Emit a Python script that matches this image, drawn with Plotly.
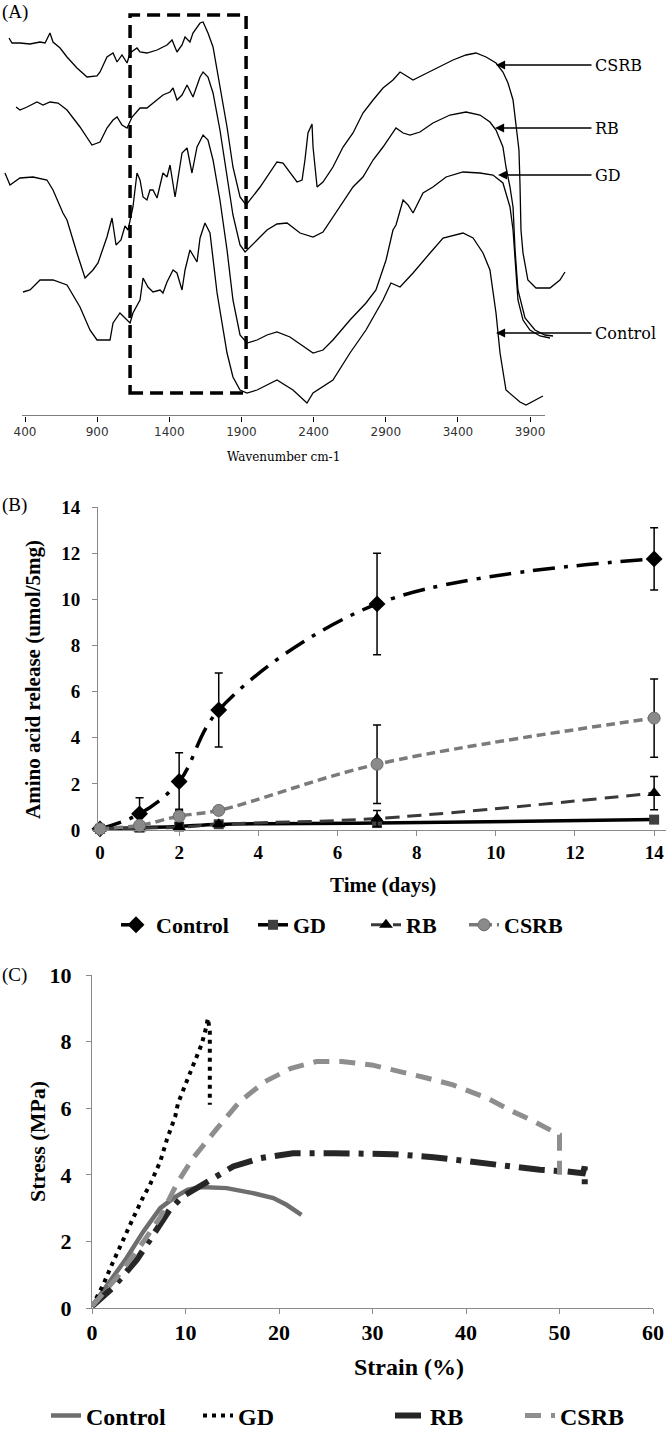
import plotly.graph_objects as go

W, H = 666, 1431


def fx(p):
    return p / W


def fy(p):
    return 1 - p / H


# ---------------- Panel A: FTIR spectra (wavenumber cm-1 vs transmittance, a.u.) ----------------
csrb_wn = [289, 310, 365, 435, 504, 539, 573, 594, 643, 691, 760, 830, 899, 920, 968, 1010, 1038, 1072, 1107, 1128,
           1176, 1197, 1245, 1315, 1384, 1419, 1453, 1488, 1509, 1543, 1564, 1613, 1634, 1668, 1703, 1751, 1800, 1841,
           1890, 1932, 2029, 2146, 2188, 2285, 2320, 2340, 2361, 2389, 2396, 2424, 2465, 2534, 2604, 2673, 2742, 2812,
           2881, 2950, 2999, 3033, 3089, 3158, 3227, 3297, 3366, 3456, 3525, 3595, 3664, 3712, 3747, 3782, 3803, 3823,
           3830, 3837, 3851, 3885, 3941, 4038, 4107, 4142]
csrb_t = [378, 373, 373, 372, 374, 373, 383, 374, 368, 359, 348, 339, 340, 344, 359, 363, 354, 361, 353, 363,
          368, 364, 363, 366, 371, 376, 364, 371, 379, 374, 383, 393, 394, 383, 369, 329, 289, 249, 219, 211,
          229, 254, 253, 234, 236, 256, 283, 292, 269, 229, 234, 249, 269, 283, 303, 316, 328, 336, 344, 341,
          336, 341, 346, 351, 356, 361, 363, 359, 353, 344, 333, 316, 293, 266, 233, 186, 163, 136, 128, 128,
          136, 144]

rb_wn = [338, 365, 414, 483, 525, 573, 629, 691, 781, 864, 920, 968, 1010, 1038, 1072, 1107, 1142, 1197, 1245, 1287,
         1356, 1405, 1426, 1453, 1488, 1523, 1564, 1613, 1634, 1668, 1703, 1751, 1800, 1841, 1890, 1925, 2008, 2077,
         2146, 2216, 2306, 2396, 2465, 2534, 2604, 2673, 2742, 2812, 2881, 2950, 2971, 3020, 3068, 3137, 3227, 3345,
         3456, 3553, 3622, 3664, 3712, 3733, 3761, 3782, 3796, 3816, 3865, 3934, 4003, 4059]
rb_t = [309, 306, 309, 314, 311, 314, 313, 306, 289, 271, 274, 288, 296, 299, 291, 288, 299, 308, 308, 313,
        321, 324, 328, 316, 321, 331, 319, 339, 344, 339, 323, 286, 241, 201, 171, 164, 176, 186, 192, 193,
        183, 179, 184, 199, 213, 229, 239, 256, 269, 283, 288, 283, 281, 284, 293, 301, 304, 301, 294, 286,
        269, 249, 229, 209, 166, 126, 98, 86, 81, 80]

gd_wn = [261, 296, 365, 455, 552, 594, 663, 691, 760, 816, 871, 906, 968, 1003, 1031, 1065, 1093, 1114, 1148, 1176,
         1197, 1218, 1245, 1266, 1287, 1315, 1356, 1384, 1405, 1440, 1488, 1523, 1557, 1592, 1634, 1668, 1703, 1751,
         1800, 1841, 1890, 1938, 2008, 2077, 2146, 2236, 2396, 2465, 2534, 2652, 2763, 2832, 2902, 2950, 2971, 3020,
         3054, 3089, 3158, 3227, 3318, 3435, 3553, 3643, 3712, 3761, 3782, 3796, 3816, 3851, 3899, 3969, 4038]
gd_t = [243, 231, 238, 239, 236, 226, 203, 196, 163, 138, 146, 153, 179, 198, 171, 176, 190, 186, 209, 243,
        236, 219, 216, 226, 226, 218, 243, 239, 251, 219, 263, 268, 243, 269, 281, 276, 256, 216, 166, 116,
        81, 73, 76, 81, 84, 79, 63, 66, 76, 96, 113, 126, 156, 186, 191, 216, 211, 203, 223, 229,
        239, 244, 243, 241, 233, 209, 186, 156, 116, 96, 86, 80, 78]

ctrl_wn = [386, 435, 504, 594, 691, 781, 850, 899, 989, 1010, 1058, 1093, 1128, 1148, 1197, 1218, 1252, 1287, 1336,
           1356, 1384, 1426, 1453, 1488, 1509, 1543, 1592, 1613, 1647, 1682, 1731, 1800, 1841, 1890, 1938, 2008,
           2146, 2257, 2354, 2396, 2534, 2652, 2763, 2881, 2936, 2999, 3089, 3207, 3297, 3435, 3505, 3574, 3622,
           3664, 3692, 3733, 3830, 3872, 3989]
ctrl_t = [124, 126, 136, 136, 131, 109, 86, 76, 76, 93, 103, 98, 93, 103, 116, 138, 129, 124, 126,
          123, 134, 146, 143, 126, 146, 166, 154, 178, 193, 183, 123, 63, 39, 26, 23, 26,
          36, 26, 13, 23, 36, 63, 86, 116, 133, 129, 143, 163, 178, 183, 178, 163, 146,
          103, 63, 26, 14, 11, 20]

wn_ticks = [400, 900, 1400, 1900, 2400, 2900, 3400, 3900]
region_wn = [1128, 1932]          # highlighted region
spectra_labels = ["CSRB", "RB", "GD", "Control"]
label_wn = [3664, 3657, 3678, 3664]   # where each arrow points
label_t = [351, 288, 241, 83]

# ---------------- Panel B: amino acid release ----------------
days = [0, 1, 2, 3, 7, 14]
rel_control = [0.05, 0.7, 2.1, 5.2, 9.8, 11.75]
rel_control_err = [0.05, 0.7, 1.25, 1.6, 2.2, 1.35]
rel_gd = [0.05, 0.1, 0.15, 0.25, 0.3, 0.45]
rel_gd_err = [0.02, 0.05, 0.05, 0.05, 0.05, 0.05]
rel_rb = [0.05, 0.08, 0.12, 0.25, 0.5, 1.6]
rel_rb_err = [0.02, 0.05, 0.1, 0.1, 0.35, 0.72]
rel_csrb = [0.05, 0.2, 0.6, 0.85, 2.85, 4.85]
rel_csrb_err = [0.02, 0.1, 0.3, 0.1, 1.7, 1.7]

# ---------------- Panel C: stress-strain ----------------
c_control_strain = [0, 1.9, 3.7, 5.5, 7.3, 8.7, 10.2, 11.6, 14.4, 17.2, 19.4, 20.8, 22.4]
c_control_stress = [0.05, 0.8, 1.5, 2.3, 3.0, 3.3, 3.55, 3.63, 3.6, 3.45, 3.3, 3.1, 2.8]
c_gd_strain = [0, 1.2, 2.2, 3.3, 4.4, 5.5, 6.2, 7.3, 8.0, 8.9, 9.2, 10.4, 11.3, 11.7, 12.1, 12.4, 12.6, 12.6]
c_gd_stress = [0.05, 0.7, 1.35, 2.05, 2.7, 3.35, 3.7, 4.4, 5.05, 5.75, 6.15, 7.0, 7.6, 7.9, 8.3, 8.7, 8.3, 6.1]
c_rb_strain = [0, 2.2, 4.8, 6.5, 8.3, 9.7, 11.6, 12.9, 15.1, 18.0, 21.5, 25.8, 32.2, 36.5, 40.1, 44.4, 47.9,
               50.8, 52.5, 52.7, 52.7]
c_rb_stress = [0.05, 0.6, 1.45, 2.15, 2.95, 3.35, 3.65, 3.9, 4.25, 4.5, 4.65, 4.65, 4.62, 4.53, 4.4, 4.25, 4.15,
               4.1, 4.05, 4.25, 3.7]
c_csrb_strain = [0, 2.7, 5.1, 7.3, 9.1, 10.8, 13.4, 15.8, 18.5, 21.3, 24.0, 26.7, 29.9, 33.1, 35.9, 38.6, 42.3,
                 45.0, 47.3, 50.0, 50.0]
c_csrb_stress = [0.05, 0.93, 1.83, 2.73, 3.75, 4.5, 5.4, 6.2, 6.8, 7.2, 7.4, 7.4, 7.3, 7.1, 6.9, 6.7, 6.3,
                 5.9, 5.6, 5.2, 4.0]

SERIF = "Liberation Serif"

fig = go.Figure()

# ---- Panel A traces
for wn, t in [(csrb_wn, csrb_t), (rb_wn, rb_t), (gd_wn, gd_t), (ctrl_wn, ctrl_t)]:
    fig.add_trace(go.Scatter(x=wn, y=t, mode="lines", line=dict(color="black", width=1.3),
                             xaxis="x", yaxis="y", showlegend=False, hoverinfo="skip"))

# ---- Panel B traces
b_specs = [
    ("Control", rel_control, rel_control_err,
     dict(color="black", width=3.5, dash="22px,9px,4px,9px", shape="spline"),
     dict(symbol="diamond", size=13, color="black"), "legend"),
    ("GD", rel_gd, rel_gd_err, dict(color="black", width=3.5, shape="spline"),
     dict(symbol="square", size=10, color="#404040"), "legend2"),
    ("RB", rel_rb, rel_rb_err, dict(color="#3a3a3a", width=3, dash="14px,8px", shape="spline"),
     dict(symbol="triangle-up", size=12, color="black"), "legend3"),
    ("CSRB", rel_csrb, rel_csrb_err, dict(color="#7a7a7a", width=3.5, dash="9px,5px", shape="spline"),
     dict(symbol="circle", size=12, color="#8a8a8a", line=dict(color="#6a6a6a", width=1)), "legend4"),
]
for name, vals, err, ln, mk, lg in b_specs:
    fig.add_trace(go.Scatter(x=days, y=vals, name=name, mode="lines+markers", line=ln, marker=mk,
                             error_y=dict(type="data", array=err, color="black", thickness=1.5, width=4),
                             xaxis="x2", yaxis="y2", cliponaxis=False, legend=lg))

# ---- Panel C traces
c_specs = [
    ("Control", c_control_strain, c_control_stress, dict(color="#6e6e6e", width=4.5), "legend5"),
    ("GD", c_gd_strain, c_gd_stress, dict(color="black", width=4, dash="4px,5px"), "legend6"),
    ("RB", c_rb_strain, c_rb_stress, dict(color="#262626", width=6, dash="26px,9px,5px,9px"), "legend7"),
    ("CSRB", c_csrb_strain, c_csrb_stress, dict(color="#8e8e8e", width=5, dash="16px,10px"), "legend8"),
]
for name, sx, sy, ln, lg in c_specs:
    fig.add_trace(go.Scatter(x=sx, y=sy, name=name, mode="lines", line=ln,
                             xaxis="x3", yaxis="y3", cliponaxis=False, legend=lg))

axis_grey = "#8a8a8a"
common_b = dict(showline=True, linecolor=axis_grey, linewidth=1, ticks="outside", ticklen=5,
                tickcolor=axis_grey, showgrid=False, zeroline=False, automargin=False)

fig.update_layout(
    width=W, height=H, margin=dict(l=0, r=0, t=0, b=0, pad=0, autoexpand=False),
    plot_bgcolor="white", paper_bgcolor="white",
    xaxis=dict(domain=[0, 1], range=[226.7, 4842], tickvals=wn_ticks, ticks="outside", ticklen=5,
               tickcolor="black", showline=False, showgrid=False, zeroline=False, anchor="y", automargin=False,
               tickfont=dict(family="DejaVu Sans", size=12, color="#333")),
    yaxis=dict(domain=[fy(416), 1], range=[0, 416], visible=False, anchor="x"),
    xaxis2=dict(domain=[fx(98), 1], range=[-0.05, 14.3], tickvals=list(range(0, 15, 2)), anchor="y2",
                tickfont=dict(family=SERIF, size=19, color="black", weight="bold"), **common_b),
    yaxis2=dict(domain=[fy(830), fy(507)], range=[0, 14], dtick=2, anchor="x2", ticklabelstandoff=8,
                tickfont=dict(family=SERIF, size=19, color="black", weight="bold"), **common_b),
    xaxis3=dict(domain=[fx(92), fx(653)], range=[0, 60], dtick=10, anchor="y3",
                tickfont=dict(family=SERIF, size=22, color="black", weight="bold"), **common_b),
    yaxis3=dict(domain=[fy(1308), fy(975)], range=[0, 10], dtick=2, anchor="x3", ticklabelstandoff=10,
                tickfont=dict(family=SERIF, size=22, color="black", weight="bold"), **common_b),
)

# Legends (one per entry so they can be placed as in the reference)
leg_b_font = dict(family=SERIF, size=22, color="black", weight="bold")
leg_c_font = dict(family=SERIF, size=24, color="black", weight="bold")
for key, xp in [("legend", 116), ("legend2", 253), ("legend3", 366), ("legend4", 464)]:
    fig.update_layout({key: dict(x=fx(xp), y=fy(925), xanchor="left", yanchor="middle",
                                 bgcolor="rgba(0,0,0,0)", font=leg_b_font, orientation="h")})
for key, xp in [("legend5", 46), ("legend6", 198), ("legend7", 390), ("legend8", 520)]:
    fig.update_layout({key: dict(x=fx(xp), y=fy(1416), xanchor="left", yanchor="middle",
                                 bgcolor="rgba(0,0,0,0)", font=leg_c_font, orientation="h")})

shapes = [
    dict(type="line", xref="x", yref="y", x0=379, x1=4004, y0=0, y1=0, line=dict(color="black", width=1.2)),
    dict(type="rect", xref="x", yref="y", x0=region_wn[0], x1=region_wn[1], y0=23, y1=401,
         line=dict(color="black", width=3.5, dash="13px,7px")),
]
fig.update_layout(shapes=shapes)

ann = []
for lab, wx, ty in zip(spectra_labels, label_wn, label_t):
    ann.append(dict(x=wx, y=ty, xref="x", yref="y", ax=4336, ay=ty, axref="x", ayref="y", text="",
                    showarrow=True, arrowhead=2, arrowsize=1.4, arrowwidth=1.3, arrowcolor="black"))
    ann.append(dict(x=4336, y=ty, xref="x", yref="y", text=lab, showarrow=False, xanchor="left",
                    yanchor="middle", font=dict(family="DejaVu Serif", size=16, color="black")))


def label(xp, yp, text, font, angle=0, xanchor="center"):
    return dict(x=fx(xp), y=fy(yp), xref="paper", yref="paper", text=text, showarrow=False,
                xanchor=xanchor, yanchor="middle", textangle=angle, font=font)


ann += [
    label(283, 457, "Wavenumber cm-1", dict(family="DejaVu Serif", size=12, color="black")),
    label(0, 12, "(A)", dict(family=SERIF, size=19, color="black"), xanchor="left"),
    label(0, 505, "(B)", dict(family=SERIF, size=19, color="black"), xanchor="left"),
    label(0, 975, "(C)", dict(family=SERIF, size=19, color="black"), xanchor="left"),
    label(383, 885, "Time (days)", dict(family=SERIF, size=21, color="black", weight="bold")),
    label(33, 680, "Amino acid release (umol/5mg)", dict(family=SERIF, size=21, color="black", weight="bold"),
          angle=-90),
    label(409, 1367, "Strain (%)", dict(family=SERIF, size=24, color="black", weight="bold")),
    label(37, 1142, "Stress (MPa)", dict(family=SERIF, size=22, color="black", weight="bold"), angle=-90),
]
fig.update_layout(annotations=ann)

fig.write_html("out.html", config={"displayModeBar": False},
               post_script="document.body.style.margin='0';document.body.style.padding='0';")
